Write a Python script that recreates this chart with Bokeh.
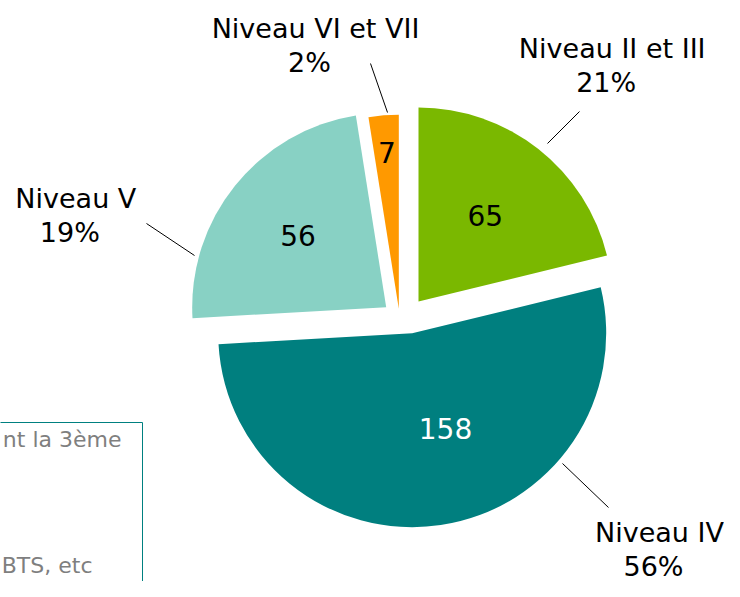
import math
from bokeh.plotting import figure
from bokeh.models import Range1d, ColumnDataSource
from bokeh.core.properties import value
from bokeh.embed import file_html
from bokeh.resources import INLINE

# ---------------- data ----------------
categories = ["Niveau II et III", "Niveau IV", "Niveau V", "Niveau VI et VII"]
counts = [65, 158, 56, 7]                     # numbers printed on the slices
pct_labels = ["21%", "56%", "19%", "2%"]      # percentages printed outside
slice_share = [21.2, 52.9, 23.4, 2.5]         # angular share of each slice (%), as drawn
colors = ["#7AB800", "#007F7F", "#88D1C4", "#FF9900"]
count_colors = ["black", "white", "black", "black"]

legend_fragments = ["nt la 3ème", "BTS, etc"]

# ---------------- layout (pixel frame, y measured downward) ----------------
W, H = 724, 581
TOP = 597  # converts picture y (downward) to data y (upward)
BASE_FIX = 11  # text baseline correction (px)
CX, CY = 402.7, 320.5
R = 194
EXPLODE = [(15.3, -19.5), (9.0, 12.2), (-17.0, -13.8), (-4.4, -12.2)]
COUNT_POS = [(484.7, 226), (445, 439), (297.5, 245.7), (386.3, 162.7)]
NAME_POS = [(611.7, 59.3), (659.0, 543.0), (75.3, 209.3), (315.0, 39.3)]
PCT_DX, PCT_DY = -6, 33.5
LEADERS = [((579, 111), (547, 143)), ((562, 463), (608, 507)),
           ((146, 223), (194, 255)), ((370, 63), (387, 112))]
LEGEND_BOX = (-100, 142, 422, 700)
LEGEND_TEXT_POS = [(121, 450), (92, 576)]


def ty(py):
    return TOP - py + BASE_FIX


p = figure(width=W, height=H, x_range=Range1d(0, W), y_range=Range1d(TOP - H, TOP),
           output_backend="svg", toolbar_location=None, x_axis_type=None, y_axis_type=None,
           min_border=0, outline_line_color=None, background_fill_color="white",
           border_fill_color="white")
p.grid.visible = False

# wedges
total = sum(slice_share)
starts, ends, xs, ys = [], [], [], []
cum = 0.0
for share, (dx, dy) in zip(slice_share, EXPLODE):
    a_end = 90 - cum / total * 360
    cum += share
    a_start = 90 - cum / total * 360
    starts.append(math.radians(a_start))
    ends.append(math.radians(a_end))
    xs.append(CX + dx)
    ys.append(TOP - (CY + dy))

src = ColumnDataSource(dict(x=xs, y=ys, start=starts, end=ends, color=colors, cat=categories))
p.wedge(x="x", y="y", radius=R, start_angle="start", end_angle="end", direction="anticlock",
        fill_color="color", line_color=None, source=src)

# counts on slices
p.text(x=[c[0] for c in COUNT_POS], y=[ty(c[1]) for c in COUNT_POS],
       text=[str(v) for v in counts], text_color=count_colors,
       text_font=value("DejaVu Sans"), text_font_size="28px",
       text_align="center", text_baseline="alphabetic")

# outside labels
p.text(x=[n[0] for n in NAME_POS], y=[ty(n[1]) for n in NAME_POS], text=categories,
       text_color="black", text_font=value("DejaVu Sans"), text_font_size="27px",
       text_align="center", text_baseline="alphabetic")
p.text(x=[n[0] + PCT_DX for n in NAME_POS], y=[ty(n[1] + PCT_DY) for n in NAME_POS],
       text=pct_labels, text_color="black", text_font=value("DejaVu Sans"),
       text_font_size="27px", text_align="center", text_baseline="alphabetic")

# leader lines
p.segment(x0=[l[0][0] for l in LEADERS], y0=[TOP - l[0][1] for l in LEADERS],
          x1=[l[1][0] for l in LEADERS], y1=[TOP - l[1][1] for l in LEADERS],
          line_color="black", line_width=1)

# partially visible legend box
l, r, t, b = LEGEND_BOX
p.quad(left=[l], right=[r], top=[TOP - t], bottom=[TOP - b], fill_color=None,
       line_color="#008080", line_width=1)
p.text(x=[q[0] for q in LEGEND_TEXT_POS], y=[ty(q[1]) for q in LEGEND_TEXT_POS],
       text=legend_fragments, text_color="#7F7F7F", text_font=value("DejaVu Sans"),
       text_font_size="22px", text_align="right", text_baseline="alphabetic")

open("out.html", "w").write(file_html(p, INLINE))
